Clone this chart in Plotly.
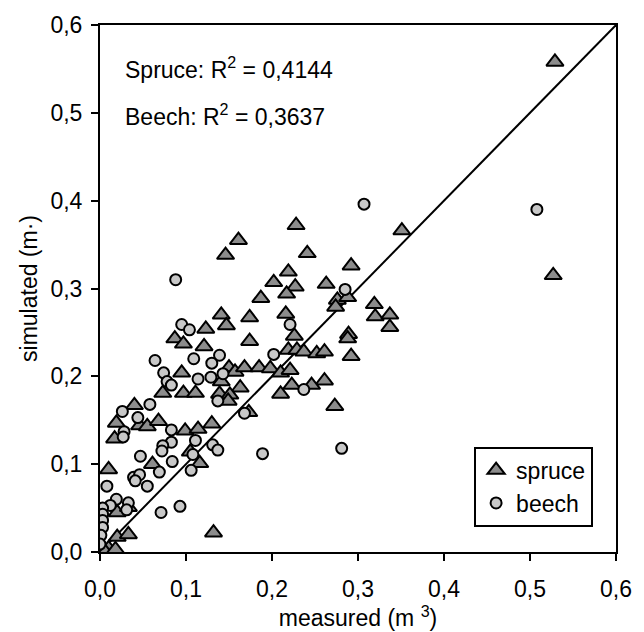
import plotly.graph_objects as go

# Spruce (triangles): measured, simulated
spruce_x = [0.529, 0.527, 0.351, 0.319, 0.320, 0.337, 0.337, 0.228, 0.161, 0.146,
            0.241, 0.292, 0.219, 0.202, 0.227, 0.263, 0.217, 0.276, 0.288, 0.274,
            0.187, 0.216, 0.174, 0.141, 0.147, 0.123, 0.226, 0.289, 0.288, 0.174,
            0.087, 0.097, 0.121, 0.219, 0.229, 0.237, 0.252, 0.261, 0.292, 0.150,
            0.157, 0.168, 0.185, 0.198, 0.210, 0.221, 0.095, 0.141, 0.261, 0.223,
            0.246, 0.163, 0.073, 0.097, 0.111, 0.139, 0.151, 0.210, 0.149, 0.273,
            0.040, 0.173, 0.019, 0.046, 0.055, 0.068, 0.099, 0.114, 0.130, 0.017,
            0.105, 0.116, 0.061, 0.010, 0.020, 0.033, 0.132, 0.020, 0.033, 0.010,
            0.006, 0.018]
spruce_y = [0.558, 0.315, 0.366, 0.282, 0.268, 0.270, 0.256, 0.372, 0.355, 0.338,
            0.340, 0.326, 0.319, 0.307, 0.302, 0.305, 0.294, 0.287, 0.290, 0.279,
            0.289, 0.271, 0.267, 0.270, 0.258, 0.254, 0.246, 0.248, 0.243, 0.240,
            0.243, 0.237, 0.234, 0.230, 0.230, 0.228, 0.226, 0.228, 0.223, 0.210,
            0.205, 0.210, 0.210, 0.209, 0.204, 0.207, 0.204, 0.194, 0.195, 0.190,
            0.190, 0.187, 0.181, 0.181, 0.181, 0.180, 0.179, 0.180, 0.172, 0.166,
            0.167, 0.159, 0.147, 0.144, 0.143, 0.149, 0.138, 0.140, 0.146, 0.129,
            0.114, 0.101, 0.100, 0.094, 0.045, 0.051, 0.022, 0.017, 0.020, 0.004,
            0.000, 0.003]

# Beech (circles): measured, simulated
beech_x = [0.508, 0.307, 0.088, 0.095, 0.104, 0.285, 0.221, 0.139, 0.109, 0.064,
           0.130, 0.202, 0.074, 0.143, 0.129, 0.114, 0.078, 0.083, 0.137, 0.058,
           0.237, 0.026, 0.044, 0.028, 0.083, 0.168, 0.027, 0.083, 0.073, 0.072,
           0.111, 0.131, 0.137, 0.108, 0.106, 0.189, 0.281, 0.047, 0.084, 0.069,
           0.039, 0.046, 0.041, 0.055, 0.008, 0.019, 0.012, 0.003, 0.033, 0.031,
           0.003, 0.003, 0.003, 0.001, 0.000, 0.071, 0.093]
beech_y = [0.390, 0.396, 0.310, 0.259, 0.253, 0.299, 0.259, 0.224, 0.220, 0.218,
           0.215, 0.225, 0.204, 0.203, 0.199, 0.197, 0.194, 0.190, 0.172, 0.168,
           0.185, 0.160, 0.153, 0.137, 0.139, 0.158, 0.131, 0.125, 0.121, 0.115,
           0.127, 0.122, 0.116, 0.111, 0.093, 0.112, 0.118, 0.109, 0.103, 0.091,
           0.085, 0.088, 0.081, 0.075, 0.075, 0.060, 0.053, 0.050, 0.056, 0.048,
           0.043, 0.036, 0.028, 0.019, 0.009, 0.045, 0.052]

# 1:1 line
line_x = [0.0, 0.6]
line_y = [0.0, 0.6]

tick_vals = [0.0, 0.1, 0.2, 0.3, 0.4, 0.5, 0.6]
tick_text = ["0,0", "0,1", "0,2", "0,3", "0,4", "0,5", "0,6"]

FONT = "Liberation Sans, Arial, sans-serif"

fig = go.Figure()
fig.add_trace(go.Scatter(x=line_x, y=line_y, mode="lines",
                         line=dict(color="black", width=2), showlegend=False,
                         hoverinfo="skip"))
fig.add_trace(go.Scatter(x=spruce_x, y=spruce_y, mode="markers", name="spruce",
                         marker=dict(symbol="triangle-up", size=15, color="#8c8c8c",
                                     line=dict(color="black", width=2))))
fig.add_trace(go.Scatter(x=beech_x, y=beech_y, mode="markers", name="beech",
                         marker=dict(symbol="circle", size=11, color="#c8c8c8",
                                     line=dict(color="black", width=2))))

axis_common = dict(
    range=[0, 0.6], tickvals=tick_vals, ticktext=tick_text,
    showgrid=False, zeroline=False, showline=True, linecolor="black", linewidth=2,
    mirror=True, ticks="outside", ticklen=7, tickwidth=2, tickcolor="black",
    tickfont=dict(family=FONT, size=23, color="black"),
)

fig.update_xaxes(**axis_common, ticklabelstandoff=8,
                 title=dict(text="measured (m <sup>3</sup>)",
                            font=dict(family=FONT, size=23, color="black"),
                            standoff=2))
fig.update_yaxes(**axis_common, ticklabelstandoff=4,
                 title=dict(text="simulated (m·)",
                            font=dict(family=FONT, size=23, color="black"),
                            standoff=6))

fig.add_annotation(x=0.027, y=0.551, xref="x", yref="y", xanchor="left",
                   yanchor="middle", showarrow=False,
                   text="Spruce: R<sup>2</sup> = 0,4144",
                   font=dict(family=FONT, size=23, color="black"))
fig.add_annotation(x=0.027, y=0.498, xref="x", yref="y", xanchor="left",
                   yanchor="middle", showarrow=False,
                   text="Beech: R<sup>2</sup> = 0,3637",
                   font=dict(family=FONT, size=23, color="black"))

fig.update_layout(
    width=644, height=632,
    margin=dict(l=100, r=20, t=19, b=77),
    plot_bgcolor="white", paper_bgcolor="white",
    font=dict(family=FONT, size=23, color="black"),
    legend=dict(x=0.725, y=0.2, xanchor="left", yanchor="top",
                bordercolor="black", borderwidth=2, bgcolor="white",
                font=dict(family=FONT, size=23, color="black"),
                itemwidth=30),
    showlegend=True,
)

fig.write_html("out.html")
